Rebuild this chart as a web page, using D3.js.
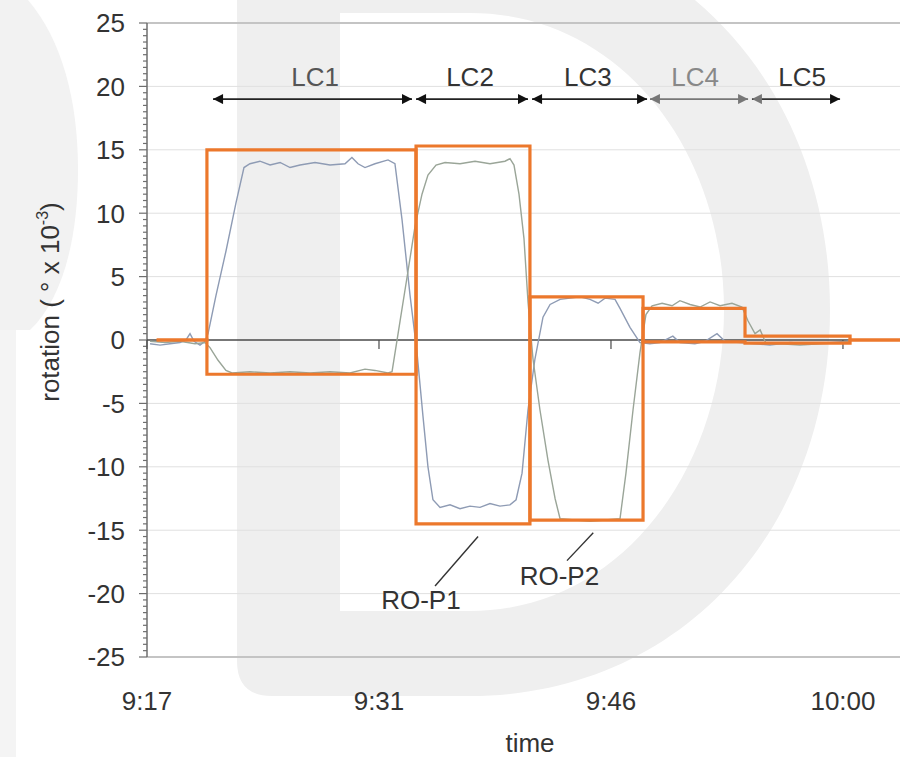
<!DOCTYPE html>
<html><head><meta charset="utf-8">
<script src="https://cdn.jsdelivr.net/npm/d3@7"></script>
<style>
html,body{margin:0;padding:0;background:#fff;}
svg{display:block;font-family:"Liberation Sans",Arial,sans-serif;}
</style></head>
<body><svg id="c" width="900" height="757"></svg>
<script>
// ---- data (time in minutes after 9:17, rotation in ° x 10^-3) ----
const xTickMinutes = [0, 14.4, 28.8, 43.2];
const xTickLabels = ["9:17", "9:31", "9:46", "10:00"];
const yTicks = [-25, -20, -15, -10, -5, 0, 5, 10, 15, 20, 25];

const stepStarts = [0.6, 3.72, 16.70, 23.77, 30.79, 37.12, 43.64];
const stepEnd = 46.8;
const modelP1 = [0, 15.0, -14.5, 3.4, -0.15, -0.25, 0];
const modelP2 = [0, -2.7, 15.3, -14.2, 2.5, 0.3, 0];

const measuredP1 = [
 [0.19,-0.3],[0.81,-0.4],[1.43,-0.3],[2.05,-0.2],[2.42,0.0],[2.67,0.5],[2.92,-0.1],[3.29,-0.4],[3.60,-0.1],
 [3.79,0.5],[4.28,3.5],[4.90,7.0],[5.52,10.8],[6.02,13.6],[6.39,13.9],[7.01,14.1],[7.64,13.8],[8.26,14.0],
 [8.88,13.6],[9.50,13.8],[10.43,14.0],[11.36,13.8],[12.29,13.9],[12.72,14.4],[13.10,13.9],[13.53,13.6],
 [14.15,13.9],[14.96,14.2],[15.39,13.9],[15.83,9.5],[16.32,3.6],[16.76,-1.0],[17.13,-6.0],[17.44,-10.0],
 [17.75,-12.6],[18.19,-13.2],[18.81,-13.0],[19.43,-13.3],[20.05,-13.1],[20.67,-13.2],[21.29,-12.9],
 [21.91,-13.1],[22.53,-13.0],[22.91,-12.6],[23.28,-10.5],[23.65,-5.5],[24.08,-1.5],[24.58,1.8],[25.02,2.8],
 [25.64,3.2],[26.26,3.3],[26.88,3.4],[27.50,3.2],[28.00,2.9],[28.43,3.3],[29.05,3.2],[29.36,2.5],[29.98,1.0],
 [30.60,-0.2],[31.22,-0.3],[31.84,-0.2],[32.64,0.3],[33.08,-0.2],[34.01,-0.3],[34.64,-0.1],[35.38,0.5],
 [35.88,-0.1],[36.81,-0.2],[37.74,-0.3],[38.67,-0.4],[39.91,-0.2],[41.15,-0.3],[42.40,-0.2],[43.64,-0.1]
];
const measuredP2 = [
 [0.19,-0.1],[1.12,-0.2],[2.05,-0.1],[2.98,-0.3],[3.60,-0.2],[3.91,-0.6],[4.41,-1.6],[4.90,-2.4],[5.28,-2.6],
 [6.39,-2.5],[7.64,-2.6],[8.88,-2.5],[10.12,-2.6],[11.36,-2.5],[12.60,-2.6],[13.53,-2.3],[14.15,-2.4],
 [14.96,-2.6],[15.21,-2.5],[15.71,1.5],[16.21,5.5],[16.64,9.0],[17.07,11.5],[17.44,13.0],[17.94,13.8],
 [18.50,14.0],[19.43,13.9],[20.36,14.1],[21.29,13.9],[22.22,14.1],[22.53,14.3],[22.78,13.8],[23.09,11.5],
 [23.40,8.0],[23.65,3.0],[23.96,-1.5],[24.39,-5.5],[24.89,-9.5],[25.33,-12.5],[25.64,-14.1],[26.57,-14.2],
 [27.50,-14.3],[28.43,-14.2],[29.36,-14.1],[29.73,-10.5],[30.17,-5.5],[30.60,-1.0],[30.97,2.0],[31.35,2.7],
 [31.97,2.9],[32.59,2.7],[33.08,3.1],[33.71,2.8],[34.33,2.6],[34.95,3.0],[35.57,2.7],[36.31,2.9],[36.93,2.6],
 [37.31,1.5],[37.74,0.5],[38.06,0.8],[38.43,-0.3],[39.29,-0.3],[40.53,-0.4],[41.77,-0.3],[43.02,-0.2],[43.64,-0.1]
];

const loadCases = ["LC1", "LC2", "LC3", "LC4", "LC5"];
const lcArrowFrom = [4.10, 16.70, 23.90, 31.22, 37.55];
const lcArrowTo = [16.45, 23.65, 31.04, 37.31, 43.02];
const lcLabelAt = [10.43, 20.05, 27.37, 34.02, 40.66];
const lcLevel = 19;

const pointLabels = ["RO-P1", "RO-P2"];
const pointLeaderFrom = [[20.55, -15.5], [27.70, -15.2]];
const pointLeaderTo = [[17.88, -19.4], [26.07, -17.4]];
const pointLabelAt = [[17.00, -21.2], [25.60, -19.3]];

// ---- drawing ----
const svg = d3.select("#c");
const W = 900, H = 757;
const x = d3.scaleLinear().domain([0, 46.74]).range([147, 900]);
const y = d3.scaleLinear().domain([-25, 25]).range([657, 23]);

// watermark
const wm = svg.append("g");
wm.append("path").attr("fill", "#f2f2f2")
  .attr("d", "M0,0 L28,0 C62,40 78,100 78,170 C78,240 62,300 30,330 L0,330 Z");
wm.append("path").attr("fill", "#f4f4f4")
  .attr("d", "M0,330 L16,330 L16,757 L0,757 Z");
wm.append("path").attr("fill", "#efefef").attr("fill-rule", "evenodd")
  .attr("d", "M237,-80 L470,-80 C680,-80 830,90 830,310 C830,530 680,696 470,696 L272,696 Q237,696 237,661 Z " +
             "M340,13 L470,13 C620,13 724,150 724,310 C724,470 620,611 470,611 L340,611 Z");

// gridlines
const grid = svg.append("g");
grid.selectAll("line").data(yTicks.filter(v => v !== 0)).join("line")
  .attr("x1", x(0)).attr("x2", W).attr("y1", d => y(d)).attr("y2", d => y(d))
  .attr("stroke", d => (Math.abs(d) === 25 ? "#c4c4c4" : "#e0e0e0"))
  .attr("stroke-width", d => (Math.abs(d) === 25 ? 2 : 1));

// y axis
const yMinor = d3.range(-25, 25.01, 0.5);
const ya = svg.append("g");
ya.append("line").attr("x1", x(0)).attr("x2", x(0)).attr("y1", y(25)).attr("y2", y(-25))
  .attr("stroke", "#6e6e6e").attr("stroke-width", 1.5);
ya.selectAll("line.mn").data(yMinor).join("line").attr("class", "mn")
  .attr("x1", d => x(0) - (d % 5 === 0 ? 8 : 4)).attr("x2", x(0))
  .attr("y1", d => y(d)).attr("y2", d => y(d))
  .attr("stroke", "#6e6e6e").attr("stroke-width", 1.2);
ya.selectAll("text").data(yTicks).join("text")
  .attr("x", 125).attr("y", d => y(d)).attr("dy", "0.36em")
  .attr("text-anchor", "end").attr("font-size", 26).attr("fill", "#333")
  .text(d => d);

// zero axis with ticks
svg.append("line").attr("x1", x(0)).attr("x2", W).attr("y1", y(0)).attr("y2", y(0))
  .attr("stroke", "#4a4a4a").attr("stroke-width", 1.5);
svg.selectAll("line.xt").data(xTickMinutes).join("line").attr("class", "xt")
  .attr("x1", d => x(d)).attr("x2", d => x(d)).attr("y1", y(0)).attr("y2", y(0) + 9)
  .attr("stroke", "#4a4a4a").attr("stroke-width", 1.2);
svg.selectAll("text.xl").data(xTickMinutes).join("text").attr("class", "xl")
  .attr("x", d => x(d)).attr("y", 710).attr("text-anchor", "middle")
  .attr("font-size", 26).attr("fill", "#333")
  .text((d, i) => xTickLabels[i]);

// axis titles
svg.append("text").attr("x", 530).attr("y", 752).attr("text-anchor", "middle")
  .attr("font-size", 26).attr("fill", "#333").text("time");
const yt = svg.append("text").attr("transform", "translate(59,302) rotate(-90)")
  .attr("text-anchor", "middle").attr("font-size", 26).attr("fill", "#333");
yt.append("tspan").text("rotation ( ° x 10");
yt.append("tspan").attr("font-size", 16).attr("dy", -11).text("-3");
yt.append("tspan").attr("dy", 11).text(")");

// measured curves
const line = d3.line().x(d => x(d[0])).y(d => y(d[1]));
svg.append("path").datum(measuredP1).attr("d", line).attr("fill", "none")
  .attr("stroke", "#8e9bb4").attr("stroke-width", 1.4);
svg.append("path").datum(measuredP2).attr("d", line).attr("fill", "none")
  .attr("stroke", "#9aa598").attr("stroke-width", 1.4);

// model step lines
const stepLine = d3.line().x(d => x(d[0])).y(d => y(d[1])).curve(d3.curveStepAfter);
function steps(vals) {
  const pts = stepStarts.map((t, i) => [t, vals[i]]);
  pts.push([stepEnd, vals[vals.length - 1]]);
  return pts;
}
[modelP1, modelP2].forEach(v => {
  svg.append("path").datum(steps(v)).attr("d", stepLine).attr("fill", "none")
    .attr("stroke", "#ec782c").attr("stroke-width", 3.2).attr("stroke-linejoin", "miter");
});

// load case arrows
const defs = svg.append("defs");
function marker(id, color) {
  defs.append("marker").attr("id", id).attr("viewBox", "0 0 10 10").attr("refX", 10).attr("refY", 5)
    .attr("markerWidth", 12).attr("markerHeight", 10).attr("markerUnits", "userSpaceOnUse")
    .attr("orient", "auto-start-reverse")
    .append("path").attr("d", "M0,0 L10,5 L0,10 Z").attr("fill", color);
}
marker("ab", "#111");
marker("ag", "#777");
const lcLineColor = ["#222", "#222", "#222", "#777", "#333"];
const lcStartHead = ["ab", "ab", "ab", "ag", "ag"];
const lcEndHead = ["ab", "ab", "ab", "ag", "ab"];
const lcTextColor = ["#555", "#333", "#333", "#888", "#333"];
loadCases.forEach((lc, i) => {
  svg.append("line").attr("x1", x(lcArrowFrom[i])).attr("x2", x(lcArrowTo[i]))
    .attr("y1", y(lcLevel)).attr("y2", y(lcLevel))
    .attr("stroke", lcLineColor[i]).attr("stroke-width", 1.6)
    .attr("marker-start", `url(#${lcStartHead[i]})`).attr("marker-end", `url(#${lcEndHead[i]})`);
  svg.append("text").attr("x", x(lcLabelAt[i])).attr("y", 86).attr("text-anchor", "middle")
    .attr("font-size", 26).attr("fill", lcTextColor[i]).text(lc);
});

// point labels
pointLabels.forEach((p, i) => {
  svg.append("line").attr("x1", x(pointLeaderFrom[i][0])).attr("y1", y(pointLeaderFrom[i][1]))
    .attr("x2", x(pointLeaderTo[i][0])).attr("y2", y(pointLeaderTo[i][1]))
    .attr("stroke", "#333").attr("stroke-width", 1.4);
  svg.append("text").attr("x", x(pointLabelAt[i][0])).attr("y", y(pointLabelAt[i][1]))
    .attr("text-anchor", "middle").attr("font-size", 26).attr("fill", "#333").text(p);
});
</script></body></html>
